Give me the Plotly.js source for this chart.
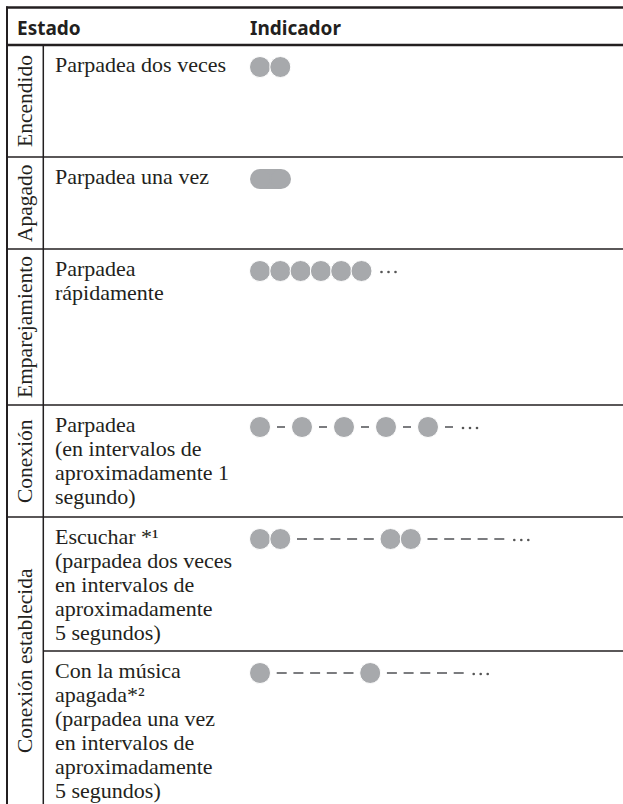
<!DOCTYPE html>
<html><head><meta charset="utf-8">
<script src="https://cdn.plot.ly/plotly-3.0.1.min.js"></script>
<style>html,body{margin:0;padding:0;background:#fff}#chart{width:623px;height:804px}</style>
</head><body><div id="chart"></div>
<script>
// ---- data ----
const encabezados = ['Estado', 'Indicador'];
const estados = ['Encendido', 'Apagado', 'Emparejamiento', 'Conexión', 'Conexión establecida'];
const estadoFilas = [[0], [1], [2], [3], [4, 5]];
const descripciones = [
  ['Parpadea dos veces'],
  ['Parpadea una vez'],
  ['Parpadea', 'rápidamente'],
  ['Parpadea', '(en intervalos de', 'aproximadamente 1', 'segundo)'],
  ['Escuchar *¹', '(parpadea dos veces', 'en intervalos de', 'aproximadamente', '5 segundos)'],
  ['Con la música', 'apagada*²', '(parpadea una vez', 'en intervalos de', 'aproximadamente', '5 segundos)']
];
const indicadores = ['●●', '▬', '●●●●●●…', '●–●–●–●–●–…', '●●–––––●●–––––…', '●–––––●–––––…'];

// ---- layout constants ----
const W = 623, H = 804;
const rowTops = [45, 157, 249, 405, 517, 651];
const tableBottom = 805;
const X_LEFT = 7, X_INNER = 43.3, X_DESC = 53, X_IND = 250;
const INK = '#231f20', LED = '#a7a9ac', DASH = '#6d6e71';
const D = 20, PITCH = 20.3;
const SERIF = 'Liberation Serif';

const circX = [], circY = [], dashX = [], dashY = [], dotX = [], dotY = [];
const pills = [];
indicadores.forEach((pat, r) => {
  const cy = rowTops[r] + 22;
  const chars = Array.from(pat);
  let end = X_IND, prev = null;
  chars.forEach((ch, i) => {
    if (ch === '●') {
      const start = prev === null ? X_IND : (prev === '●' ? end - D + PITCH : end + gapFor(chars, i));
      circX.push(start + D / 2); circY.push(cy);
      end = start + D;
    } else if (ch === '▬') {
      const start = prev === null ? X_IND : end + 7;
      pills.push({x0: start + D / 2, x1: start + 41 - D / 2, y: cy});
      end = start + 41;
    } else if (ch === '–') {
      const run = runLen(chars, i);
      const len = run > 1 ? 10 : 8;
      const start = end + gapFor(chars, i);
      dashX.push(start, start + len, null); dashY.push(cy, cy, null);
      end = start + len;
    } else if (ch === '…') {
      const s = end + 10;
      for (let k = 0; k < 3; k++) { dotX.push(s + 7 * k); dotY.push(cy + 1); }
      end = s + 15;
    }
    prev = ch;
  });
});
function runLen(chars, i) {
  let a = i, b = i;
  while (a > 0 && chars[a - 1] === '–') a--;
  while (b < chars.length - 1 && chars[b + 1] === '–') b++;
  return b - a + 1;
}
function gapFor(chars, i) {
  const j = chars[i] === '–' ? i : i - 1;
  return runLen(chars, j) > 1 ? 6.7 : 7;
}

const traces = [];
pills.forEach(p => {
  traces.push({x: [p.x0, p.x1], y: [p.y, p.y], mode: 'lines+markers', type: 'scatter',
    line: {color: LED, width: D}, marker: {size: D, color: LED}, hoverinfo: 'skip'});
});
traces.push({x: circX, y: circY, mode: 'markers', type: 'scatter',
  marker: {size: D + 1, color: LED, line: {color: '#ffffff', width: 1}}, hoverinfo: 'skip'});
traces.push({x: dashX, y: dashY, mode: 'lines', type: 'scatter', connectgaps: false,
  line: {color: DASH, width: 1.8}, hoverinfo: 'skip'});
traces.push({x: dotX, y: dotY, mode: 'markers', type: 'scatter',
  marker: {size: 2.6, color: '#555555'}, hoverinfo: 'skip'});

const annotations = [];
annotations.push({x: 15, y: 28, text: encabezados[0], xanchor: 'left', yanchor: 'middle', showarrow: false,
  font: {family: 'Noto Sans', size: 19, weight: 'bold', color: INK}});
annotations.push({x: X_IND - 2, y: 28, text: encabezados[1], xanchor: 'left', yanchor: 'middle', showarrow: false,
  font: {family: 'Noto Sans', size: 19, weight: 'bold', color: INK}});
descripciones.forEach((lines, r) => {
  lines.forEach((t, i) => {
    annotations.push({x: X_DESC, y: rowTops[r] + 19 + 24 * i, text: t, xanchor: 'left', yanchor: 'middle',
      showarrow: false, font: {family: SERIF, size: 22, color: INK}});
  });
});
const shapes = [];
const ln = (x0, y0, x1, y1, w) => shapes.push({type: 'line', xref: 'x', yref: 'y', x0, y0, x1, y1, line: {color: INK, width: w}});
ln(6, 7.5, W, 7.5, 2.5);
ln(X_LEFT, 6.5, X_LEFT, H, 2);
ln(X_LEFT, 45, W, 45, 2.5);
ln(X_INNER, 45, X_INNER, H, 1.5);
estados.forEach((e, k) => {
  const rows = estadoFilas[k];
  const top = rowTops[rows[0]];
  const last = rows[rows.length - 1];
  const bottom = last + 1 < rowTops.length ? rowTops[last + 1] : tableBottom;
  annotations.push({x: 25, y: (top + bottom) / 2, text: e, textangle: -90, xanchor: 'center', yanchor: 'middle',
    showarrow: false, font: {family: SERIF, size: 21.5, color: INK}});
  if (k > 0) ln(X_LEFT, top, W, top, 1.5);
  rows.slice(1).forEach(r => ln(X_INNER, rowTops[r], W, rowTops[r], 1.5));
});

Plotly.newPlot('chart', traces, {
  width: W, height: H, margin: {l: 0, r: 0, t: 0, b: 0},
  paper_bgcolor: '#ffffff', plot_bgcolor: '#ffffff', showlegend: false, hovermode: false,
  xaxis: {range: [0, W], visible: false, fixedrange: true},
  yaxis: {range: [H, 0], visible: false, fixedrange: true},
  shapes, annotations
}, {staticPlot: true, displayModeBar: false});
</script></body></html>
